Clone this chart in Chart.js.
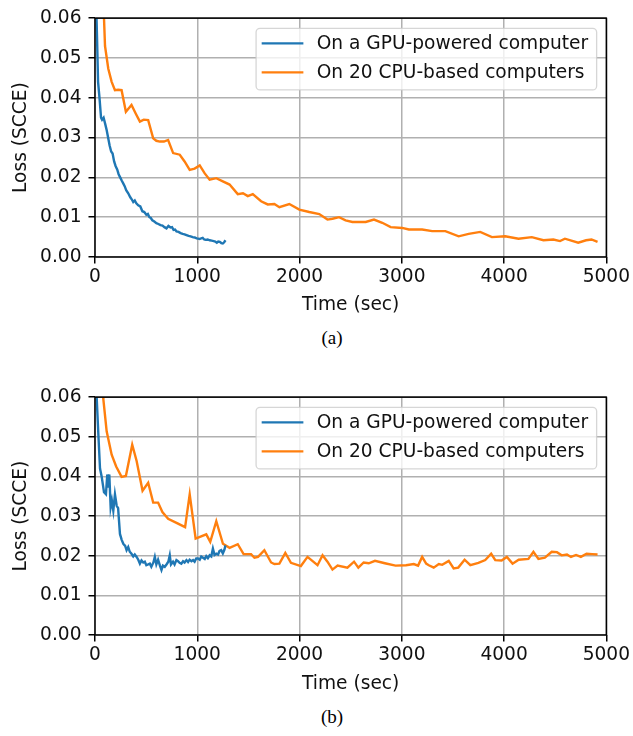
<!DOCTYPE html>
<html>
<head>
<meta charset="utf-8">
<script src="https://cdn.jsdelivr.net/npm/chart.js@4.4.1/dist/chart.umd.min.js"></script>
<style>
  body { margin: 0; background: #fff; }
  #page { position: relative; width: 633px; height: 736px; }
  .panel { position: absolute; left: 0; width: 633px; height: 320px; }
  .caption { position: absolute; left: 302px; width: 60px; text-align: center;
             font-family: "Liberation Serif", serif; font-size: 19px; line-height: 24px; color: #000; }
</style>
</head>
<body>
<div id="page">
  <div class="panel" style="top:0"><canvas id="chartA" width="633" height="320"></canvas></div>
  <div class="caption" style="top:326px">(a)</div>
  <div class="panel" style="top:379px"><canvas id="chartB" width="633" height="320"></canvas></div>
  <div class="caption" style="top:705px">(b)</div>
</div>
<script>
// Series labels
const seriesLabels = ['On a GPU-powered computer', 'On 20 CPU-based computers'];

// Axis ticks
const xTicks = [0, 1000, 2000, 3000, 4000, 5000];
const yTicks = [0.00, 0.01, 0.02, 0.03, 0.04, 0.05, 0.06];

// (a) GPU-powered computer
const gpuTimeA = [0, 20, 30, 44, 59, 69, 84, 99, 113, 128, 143, 158, 172, 187, 202, 217, 231, 246, 261, 276,
  290, 305, 325, 345, 359, 374, 389, 404, 423, 443, 463, 482, 502, 517, 532, 546, 561, 580, 600, 620,
  640, 660, 679, 699, 718, 738, 753, 768, 783, 797, 817, 837, 857, 876, 895, 915, 935, 955, 975, 994,
  1009, 1024, 1039, 1053, 1068, 1083, 1102, 1122, 1141, 1161, 1176, 1191, 1205, 1220, 1235, 1250, 1263, 1276];
const gpuLossA = [0.075, 0.055, 0.044, 0.040, 0.035, 0.0345, 0.035, 0.0335, 0.032, 0.030, 0.028, 0.0265, 0.026, 0.024, 0.0228, 0.022, 0.0208, 0.020, 0.0192, 0.0185,
  0.0178, 0.0168, 0.0160, 0.0150, 0.0145, 0.0138, 0.0142, 0.0135, 0.0130, 0.0127, 0.0115, 0.0113, 0.0106, 0.0108, 0.0100, 0.0098, 0.0092, 0.0089, 0.0085, 0.0083,
  0.0080, 0.0079, 0.0075, 0.0072, 0.0078, 0.0074, 0.0075, 0.0068, 0.0069, 0.0064, 0.0063, 0.0060, 0.0058, 0.0057, 0.0055, 0.0053, 0.0052, 0.0050, 0.0049, 0.0047,
  0.0046, 0.0045, 0.0047, 0.0048, 0.0044, 0.0043, 0.0044, 0.0042, 0.0041, 0.0040, 0.0039, 0.0036, 0.0039, 0.0038, 0.0035, 0.0034, 0.0037, 0.0042];

// (a) 20 CPU-based computers
const cpuTimeA = [69, 88, 98, 130, 163, 195, 226, 260, 302, 357, 399, 439, 477, 520, 569, 600, 634, 674, 715, 764,
  829, 876, 926, 974, 1024, 1073, 1121, 1186, 1250, 1316, 1396, 1447, 1494, 1543, 1624, 1689, 1754, 1803, 1900, 1998,
  2095, 2193, 2273, 2322, 2387, 2450, 2517, 2647, 2728, 2809, 2891, 3004, 3069, 3199, 3297, 3426, 3556, 3654, 3767, 3881,
  4011, 4141, 4271, 4385, 4482, 4547, 4595, 4725, 4802, 4855, 4914];
const cpuLossA = [0.075, 0.060, 0.053, 0.0473, 0.044, 0.0419, 0.042, 0.0419, 0.0365, 0.0382, 0.036, 0.034, 0.0345, 0.0344, 0.0298, 0.0292, 0.029, 0.029, 0.0294, 0.0261,
  0.0257, 0.024, 0.0219, 0.0222, 0.023, 0.021, 0.0194, 0.0198, 0.019, 0.0182, 0.0158, 0.016, 0.0153, 0.0158, 0.014, 0.0132, 0.0133, 0.0125, 0.0133, 0.0119,
  0.0113, 0.0108, 0.0094, 0.0096, 0.0100, 0.0092, 0.0088, 0.0088, 0.0094, 0.0086, 0.0075, 0.0073, 0.0069, 0.0069, 0.0065, 0.0065, 0.0052, 0.0058, 0.0063, 0.0050,
  0.0052, 0.0046, 0.0050, 0.0042, 0.0044, 0.0040, 0.0046, 0.0036, 0.0042, 0.0044, 0.0038];

// (b) GPU-powered computer
const gpuTimeB = [0, 17, 33, 49, 65, 88, 107, 120, 130, 140, 153, 165, 179, 195, 212, 226, 244, 261, 277, 295,
  309, 325, 340, 357, 374, 389, 407, 423, 439, 455, 472, 487, 502, 536, 551, 571, 585, 600, 617, 635,
  650, 664, 682, 699, 717, 731, 743, 763, 778, 796, 812, 827, 844, 861, 876, 894, 910, 925, 943, 959,
  974, 990, 1007, 1024, 1039, 1056, 1073, 1088, 1104, 1121, 1137, 1153, 1169, 1186, 1203, 1218, 1234, 1250, 1265, 1276];
const gpuLossB = [0.075, 0.0596, 0.0505, 0.042, 0.040, 0.036, 0.0355, 0.0405, 0.0372, 0.0405, 0.0322, 0.0339, 0.0314, 0.0355, 0.0326, 0.032, 0.0255, 0.024, 0.023, 0.0225,
  0.0214, 0.0222, 0.021, 0.0205, 0.0198, 0.0203, 0.0197, 0.019, 0.018, 0.0188, 0.0183, 0.0185, 0.0176, 0.018, 0.0172, 0.0183, 0.0197, 0.0178, 0.019, 0.0175,
  0.0164, 0.0175, 0.0172, 0.0178, 0.0185, 0.0201, 0.0178, 0.0185, 0.0178, 0.0189, 0.0186, 0.0182, 0.018, 0.0186, 0.0183, 0.0189, 0.0184, 0.019, 0.0186, 0.0189,
  0.0185, 0.0193, 0.0193, 0.019, 0.0198, 0.0195, 0.0192, 0.0199, 0.0194, 0.0201, 0.0198, 0.0218, 0.0202, 0.0205, 0.0203, 0.0212, 0.0214, 0.0206, 0.0215, 0.0226];

// (b) 20 CPU-based computers
const cpuTimeB = [59, 81, 114, 163, 207, 260, 302, 364, 407, 465, 520, 569, 617, 659, 715, 797, 881, 926, 984, 1088,
  1127, 1186, 1251, 1316, 1396, 1453, 1511, 1526, 1559, 1594, 1656, 1722, 1754, 1803, 1861, 1916, 2013, 2078, 2176, 2225,
  2273, 2322, 2372, 2468, 2533, 2575, 2627, 2677, 2738, 2834, 2939, 3041, 3117, 3159, 3199, 3238, 3264, 3312, 3362, 3395,
  3459, 3507, 3552, 3614, 3670, 3749, 3816, 3874, 3914, 3976, 4027, 4083, 4143, 4238, 4287, 4336, 4399, 4466, 4517, 4563,
  4615, 4654, 4704, 4751, 4807, 4861, 4914];
const cpuLossB = [0.075, 0.0596, 0.0514, 0.0455, 0.0425, 0.0399, 0.0401, 0.048, 0.0439, 0.0364, 0.0384, 0.0334, 0.0334, 0.031, 0.0293, 0.0283, 0.0272, 0.0355, 0.0243, 0.0254,
  0.0235, 0.0287, 0.023, 0.022, 0.0229, 0.0204, 0.0204, 0.0204, 0.0195, 0.0197, 0.0214, 0.0183, 0.0179, 0.018, 0.0207, 0.0182, 0.0174, 0.0197, 0.0176, 0.0201,
  0.0185, 0.0165, 0.0175, 0.017, 0.0185, 0.017, 0.0183, 0.0181, 0.0187, 0.0181, 0.0175, 0.0176, 0.0179, 0.0175, 0.0197, 0.018, 0.0176, 0.017, 0.0179, 0.0177,
  0.0187, 0.0168, 0.017, 0.019, 0.0176, 0.0182, 0.0189, 0.0205, 0.0189, 0.0188, 0.0197, 0.018, 0.019, 0.0192, 0.021, 0.0192, 0.0195, 0.021, 0.0209, 0.0201,
  0.0203, 0.0197, 0.0202, 0.0197, 0.0205, 0.0204, 0.0203];

const BLUE = '#1f77b4';
const ORANGE = '#ff7f0e';
const FONT = 'DejaVu Sans';
const FS = 18.6;

function toPoints(xs, ys) {
  return xs.map((x, i) => ({ x: x, y: ys[i] }));
}

// Draws the black frame around the plot (matplotlib spines)
const framePlugin = {
  id: 'frame',
  afterDatasetsDraw(chart) {
    const a = chart.chartArea;
    const ctx = chart.ctx;
    ctx.save();
    ctx.strokeStyle = '#000';
    ctx.lineWidth = 1.5;
    ctx.strokeRect(a.left, a.top, a.right - a.left, a.bottom - a.top);
    ctx.restore();
  }
};

// Legend box inside the upper right corner of the plot
const boxLegendPlugin = {
  id: 'boxLegend',
  afterDraw(chart) {
    const a = chart.chartArea;
    const ctx = chart.ctx;
    ctx.save();
    ctx.font = FS + 'px "' + FONT + '"';
    const sets = chart.data.datasets;
    let maxW = 0;
    sets.forEach(d => { maxW = Math.max(maxW, ctx.measureText(d.label).width); });
    const textOff = 60.6;
    const w = textOff + maxW + 8.5;
    const h = 61.6;
    const right = a.right - 9.7;
    const left = right - w;
    const top = a.top + 10.2;
    ctx.beginPath();
    ctx.roundRect(left, top, w, h, 4);
    ctx.fillStyle = 'rgba(255,255,255,0.8)';
    ctx.fill();
    ctx.strokeStyle = 'rgba(204,204,204,0.8)';
    ctx.lineWidth = 1.3;
    ctx.stroke();
    sets.forEach((d, i) => {
      const y = top + 15 + i * 29;
      ctx.beginPath();
      ctx.moveTo(left + 5.6, y);
      ctx.lineTo(left + 47.3, y);
      ctx.strokeStyle = d.borderColor;
      ctx.lineWidth = 2.4;
      ctx.stroke();
      ctx.fillStyle = '#111';
      ctx.textBaseline = 'middle';
      ctx.textAlign = 'left';
      ctx.fillText(d.label, left + textOff, y + 1);
    });
    ctx.restore();
  }
};

function makeChart(id, gpuPts, cpuPts, areaBottom) {
  const ctx = document.getElementById(id).getContext('2d');
  return new Chart(ctx, {
    type: 'line',
    data: {
      datasets: [{
        label: seriesLabels[0],
        data: gpuPts,
        borderColor: BLUE,
        borderWidth: 2.4,
        pointRadius: 0,
        tension: 0,
        fill: false
      }, {
        label: seriesLabels[1],
        data: cpuPts,
        borderColor: ORANGE,
        borderWidth: 2.4,
        pointRadius: 0,
        tension: 0,
        fill: false
      }]
    },
    options: {
      responsive: false,
      animation: false,
      devicePixelRatio: 1,
      layout: { padding: { left: 0, right: 25, top: 16, bottom: 0 } },
      plugins: { legend: { display: false }, tooltip: { enabled: false } },
      scales: {
        x: {
          type: 'linear',
          min: xTicks[0],
          max: xTicks[xTicks.length - 1],
          afterBuildTicks: s => { s.ticks = xTicks.map(v => ({ value: v })); },
          afterFit: s => { s.height = 320 - areaBottom; },
          border: { display: false },
          grid: { color: '#b0b0b0', lineWidth: 1.5, tickColor: '#000', tickWidth: 1.5, tickLength: 6.5 },
          ticks: {
            padding: 3,
            maxRotation: 0,
            autoSkip: false,
            color: '#111',
            font: { family: FONT, size: FS },
            callback: v => String(v)
          },
          title: {
            display: true,
            text: 'Time (sec)',
            color: '#111',
            font: { family: FONT, size: FS },
            padding: { top: 0, bottom: 4 }
          }
        },
        y: {
          min: yTicks[0],
          max: yTicks[yTicks.length - 1],
          afterBuildTicks: s => { s.ticks = yTicks.map(v => ({ value: v })); },
          afterFit: s => { s.width = 95; },
          border: { display: false },
          grid: { color: '#b0b0b0', lineWidth: 1.5, tickColor: '#000', tickWidth: 1.5, tickLength: 6.5 },
          ticks: {
            padding: 7,
            color: '#111',
            font: { family: FONT, size: FS },
            callback: v => v.toFixed(2)
          },
          title: {
            display: true,
            text: 'Loss (SCCE)',
            color: '#111',
            font: { family: FONT, size: FS },
            padding: { top: 9.6, bottom: 0 }
          }
        }
      }
    },
    plugins: [framePlugin, boxLegendPlugin]
  });
}

makeChart('chartA', toPoints(gpuTimeA, gpuLossA), toPoints(cpuTimeA, cpuLossA), 257);
makeChart('chartB', toPoints(gpuTimeB, gpuLossB), toPoints(cpuTimeB, cpuLossB), 256);
</script>
</body>
</html>
